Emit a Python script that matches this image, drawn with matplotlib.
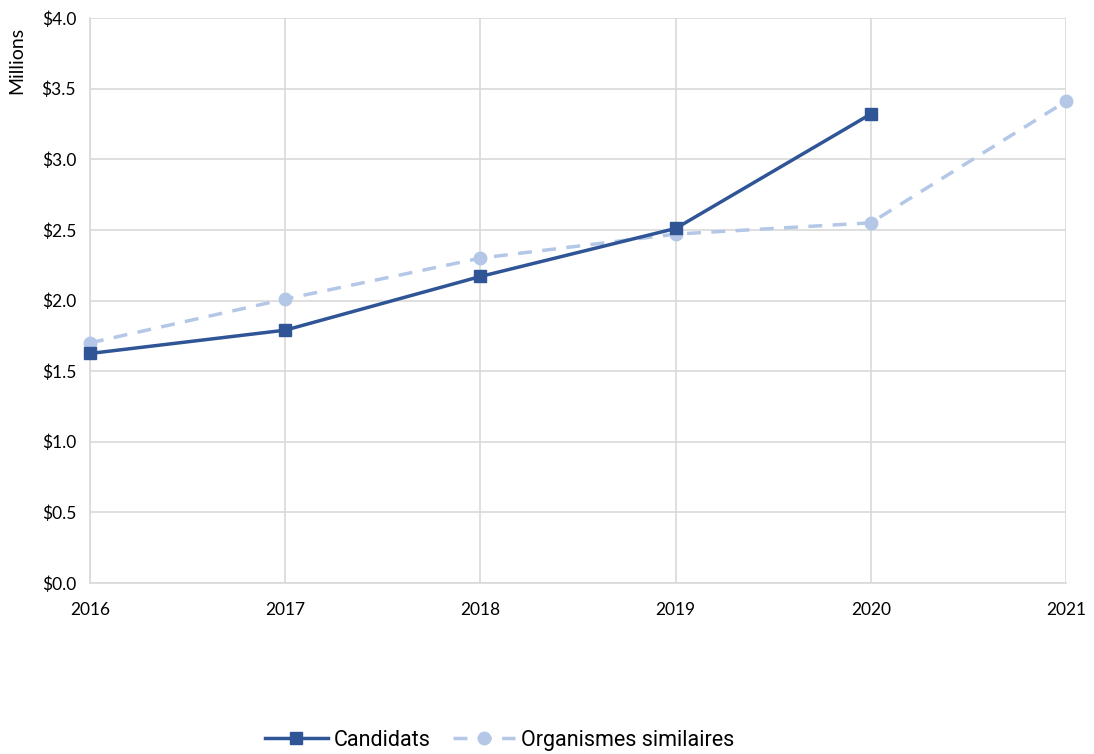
import matplotlib
matplotlib.use("Agg")
import matplotlib.pyplot as plt
from matplotlib.ticker import FuncFormatter

years = [2016, 2017, 2018, 2019, 2020, 2021]
cand_years = [2016, 2017, 2018, 2019, 2020]
candidats = [1.625, 1.79, 2.17, 2.51, 3.32]
organismes = [1.70, 2.01, 2.30, 2.47, 2.55, 3.41]
yticks = [0.0, 0.5, 1.0, 1.5, 2.0, 2.5, 3.0, 3.5, 4.0]

fig = plt.figure(figsize=(10.94, 7.54), dpi=100)
ax = fig.add_axes([90/1094, 1-583/754, (1066-90)/1094, (583-18)/754])

ax.plot(years, organismes, color="#B4C7E7", lw=2.5, ls=(0, (4, 3)), marker="o", ms=9,
        label="Organismes similaires", zorder=3, clip_on=False)
ax.plot(cand_years, candidats, color="#2F5597", lw=2.5, marker="s", ms=8.5,
        label="Candidats", zorder=4, clip_on=False)

ax.set_xlim(2016, 2021)
ax.set_ylim(0, 4)
ax.set_xticks(years)
ax.set_yticks(yticks)
ax.yaxis.set_major_formatter(FuncFormatter(lambda v, p: f"${v:.1f}"))
ax.grid(True, color="#D9D9D9", lw=1.2)
ax.set_axisbelow(True)
for s in ["top", "right"]:
    ax.spines[s].set_visible(False)
for s in ["left", "bottom"]:
    ax.spines[s].set_color("#D9D9D9")
    ax.spines[s].set_linewidth(1.2)
ax.tick_params(length=0, labelsize=12.5)
ax.tick_params(axis="x", pad=14)
ax.tick_params(axis="y", pad=10)
for lab in ax.get_xticklabels() + ax.get_yticklabels():
    lab.set_family("Lato")
ax.set_ylabel("Millions", fontsize=14, family="Lato", labelpad=4)
ax.yaxis.set_label_coords(-0.066, 0.925)

h, l = ax.get_legend_handles_labels()
leg = fig.legend([h[1], h[0]], [l[1], l[0]], loc="center", bbox_to_anchor=(0.457, 0.018),
                 ncol=2, frameon=False, prop={"family": "Roboto", "size": 15.5},
                 handlelength=2.9, columnspacing=1.0, handletextpad=0.3)

fig.savefig("out.png", dpi=100)
